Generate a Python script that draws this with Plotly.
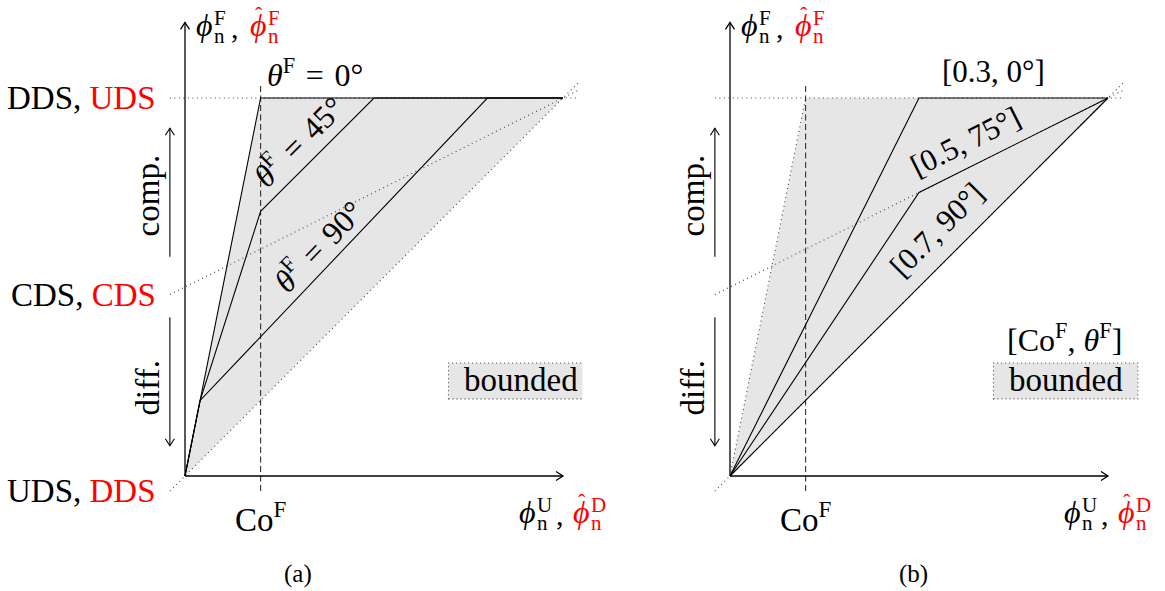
import plotly.graph_objects as go
import numpy as np

W, H = 1165, 591
UNIT = 378.0
FONT = "Liberation Serif"

# ---------------- data ----------------
cof = 0.2                               # Co^F position on the horizontal axis
level_y = [1.0, 0.48, -0.04]            # left ends of the reference lines
level_black = ["DDS", "CDS", "UDS"]
level_red = ["UDS", "CDS", "DDS"]

# panel (a): curves for theta^F = 0, 45, 90 deg
a_labels = ["<i>θ</i><sup>F</sup>\u2004=\u20040°", "<i>θ</i><sup>F</sup>\u2004=\u200445°",
            "<i>θ</i><sup>F</sup>\u2004=\u200490°"]
a_x = [[0, 0.04, 0.2, 1.0], [0, 0.04, 0.2, 0.5, 1.0], [0, 0.04, 0.8, 1.0]]
a_y = [[0, 0.2, 1.0, 1.0], [0, 0.2, 0.7, 1.0, 1.0], [0, 0.2, 1.0, 1.0]]

# panel (b): curves for [Co^F, theta^F]
b_labels = ["[0.3, 0°]", "[0.5, 75°]", "[0.7, 90°]"]
b_x = [[0, 0.5, 1.0], [0, 0.5, 1.0], [0, 1.0]]
b_y = [[0, 1.0, 1.0], [0, 0.75, 1.0], [0, 1.0]]

# bounded region
bounded_x = [0, 0.2, 1.0, 0]
bounded_y = [0, 1.0, 1.0, 0]

# dotted reference lines (DDS, CDS, UDS)
ref_x = [-0.04, 1.04]
ref_dds = [1.0, 1.0]
ref_cds = [0.48, 1.02]
ref_uds = [-0.04, 1.04]

# axis extents
x_axis_end = 1.0
y_axis_end = 1.2
cof_span = [-0.04, 1.04]
comp_span = [0.58, 0.92]
diff_span = [0.42, 0.08]
arrow_x = -0.04

# ---------------- layout geometry ----------------
split = 0.5
orig_a = 185.0
orig_b = 730.0
orig_y = 476.0

fig = go.Figure()

xa_range = [-orig_a / UNIT, (W * split - orig_a) / UNIT]
xb_range = [-(orig_b - W * split) / UNIT, (W - orig_b) / UNIT]
y_range = [-(H - orig_y) / UNIT, orig_y / UNIT]

ax_common = dict(visible=False, fixedrange=True, showgrid=False, zeroline=False)
fig.update_layout(
    width=W, height=H,
    margin=dict(l=0, r=0, t=0, b=0),
    paper_bgcolor="white", plot_bgcolor="white",
    showlegend=False,
    xaxis=dict(domain=[0, split], range=xa_range, anchor="y", **ax_common),
    yaxis=dict(domain=[0, 1], range=y_range, anchor="x", **ax_common),
    xaxis2=dict(domain=[split, 1], range=xb_range, anchor="y2", **ax_common),
    yaxis2=dict(domain=[0, 1], range=y_range, anchor="x2", **ax_common),
)

DOT = dict(color="#444", width=1.1, dash="1px,3.5px")
annotations = []
shapes = []


def line(xr, yr, xs, ys, **style):
    fig.add_trace(go.Scatter(x=xs, y=ys, mode="lines", line=style,
                             hoverinfo="skip", xaxis=xr, yaxis=yr))


def arrow(xr, yr, x0, y0, x1, y1, width=1.2):
    line(xr, yr, [x0, x1], [y0, y1], color="black", width=width)
    d = np.array([x1 - x0, y1 - y0], dtype=float)
    d /= np.linalg.norm(d)
    n = np.array([-d[1], d[0]])
    L, Wd = 7 / UNIT, 4.5 / UNIT
    tip = np.array([x1, y1])
    p1 = tip - L * d + Wd * n
    p2 = tip - L * d - Wd * n
    line(xr, yr, [p1[0], tip[0], p2[0]], [p1[1], tip[1], p2[1]], color="black", width=width)


def text(xr, yr, x, y, t, size=33, color="black", xanchor="center", yanchor="middle",
         angle=0, xshift=0, yshift=0):
    annotations.append(dict(x=x, y=y, xref=xr, yref=yr, text=t, showarrow=False,
                            font=dict(family=FONT, size=size, color=color),
                            xanchor=xanchor, yanchor=yanchor, textangle=angle,
                            xshift=xshift, yshift=yshift))


def phi_sym(xr, yr, x, y, dx, dy, sup, color, hat=False):
    # base phi with stacked sub/sup; dx, dy = pixel offsets from anchor point
    text(xr, yr, x, y, "<i>ϕ</i>", size=32, color=color, xanchor="left", xshift=dx, yshift=dy)
    if hat:
        text(xr, yr, x, y, "ˆ", size=22, color=color, xanchor="center", yanchor="top",
             xshift=dx + 11, yshift=dy + 25)
    text(xr, yr, x, y, sup, size=21, color=color, xanchor="left", xshift=dx + 18, yshift=dy + 7)
    text(xr, yr, x, y, "n", size=21, color=color, xanchor="left", xshift=dx + 18, yshift=dy - 11)


def panel(xr, yr, curves_x, curves_y, left_dotted):
    # fill
    fig.add_trace(go.Scatter(x=bounded_x, y=bounded_y, mode="lines", fill="toself",
                             fillcolor="#e6e6e6", line=dict(width=0),
                             hoverinfo="skip", xaxis=xr, yaxis=yr))
    # dotted reference lines
    for ys in (ref_dds, ref_cds, ref_uds):
        line(xr, yr, ref_x, ys, **DOT)
    if left_dotted:
        line(xr, yr, bounded_x[:2], bounded_y[:2], **DOT)
    # Co^F dashed line
    line(xr, yr, [cof, cof], cof_span, color="#333", width=1.1, dash="6px,3.5px")
    # curves
    for xs, ys in zip(curves_x, curves_y):
        line(xr, yr, xs, ys, color="black", width=1.1)
    # axes
    arrow(xr, yr, 0, 0, x_axis_end, 0, width=1.3)
    arrow(xr, yr, 0, 0, 0, y_axis_end, width=1.3)
    # comp./diff. arrows
    arrow(xr, yr, arrow_x, comp_span[0], arrow_x, comp_span[1], width=1.1)
    arrow(xr, yr, arrow_x, diff_span[0], arrow_x, diff_span[1], width=1.1)
    text(xr, yr, arrow_x, np.mean(comp_span), "comp.", angle=-90, xshift=-22, yshift=-3)
    text(xr, yr, arrow_x, np.mean(diff_span), "diff.", angle=-90, xshift=-22, yshift=-6)
    # axis labels
    phi_sym(xr, yr, 0, y_axis_end, 9, -3, "F", "black")
    text(xr, yr, 0, y_axis_end, ",", size=30, xanchor="left", xshift=44, yshift=-5)
    phi_sym(xr, yr, 0, y_axis_end, 63, -3, "F", "red", hat=True)
    phi_sym(xr, yr, x_axis_end, 0, -46, -36, "U", "black")
    text(xr, yr, x_axis_end, 0, ",", size=30, xanchor="left", xshift=-9, yshift=-38)
    phi_sym(xr, yr, x_axis_end, 0, 8, -36, "D", "red", hat=True)
    # Co^F label
    text(xr, yr, cof, cof_span[0], "Co<sup>F</sup>", yshift=-26)
    # bounded box
    shapes.append(dict(type="rect", xref=xr, yref=yr, x0=0.697, x1=1.079, y0=0.204, y1=0.299,
                       fillcolor="#e6e6e6", line=dict(color="#444", width=1.1, dash="1px,3px"),
                       layer="above"))
    text(xr, yr, (0.697 + 1.079) / 2, (0.204 + 0.299) / 2, "bounded", yshift=1)


panel("x", "y", a_x, a_y, left_dotted=False)
panel("x2", "y2", b_x, b_y, left_dotted=True)

# left level labels (panel a)
for yv, blk, red in zip(level_y, level_black, level_red):
    text("x", "y", ref_x[0], yv, f"{blk}, <span style='color:red'>{red}</span>",
         xanchor="right", xshift=-12)

# panel (a) curve labels
text("x", "y", 0.345, 1.066, a_labels[0], size=32)
text("x", "y", 0.297, 0.889, a_labels[1], size=32, angle=-45)
text("x", "y", 0.349, 0.611, a_labels[2], size=32, angle=-46)

# panel (b) curve labels
text("x2", "y2", 0.698, 1.069, b_labels[0], size=31)
text("x2", "y2", 0.622, 0.886, b_labels[1], size=31, angle=-26.6)
text("x2", "y2", 0.548, 0.651, b_labels[2], size=31, angle=-45)
text("x2", "y2", 0.884, 0.365, "[Co<sup>F</sup>, <i>θ</i><sup>F</sup>]", size=32)

# captions
text("paper", "paper", 298 / W, 1 - 574 / H, "(a)", size=25)
text("paper", "paper", 913 / W, 1 - 574 / H, "(b)", size=25)

fig.update_layout(annotations=annotations, shapes=shapes)
fig.write_html("out.html")
